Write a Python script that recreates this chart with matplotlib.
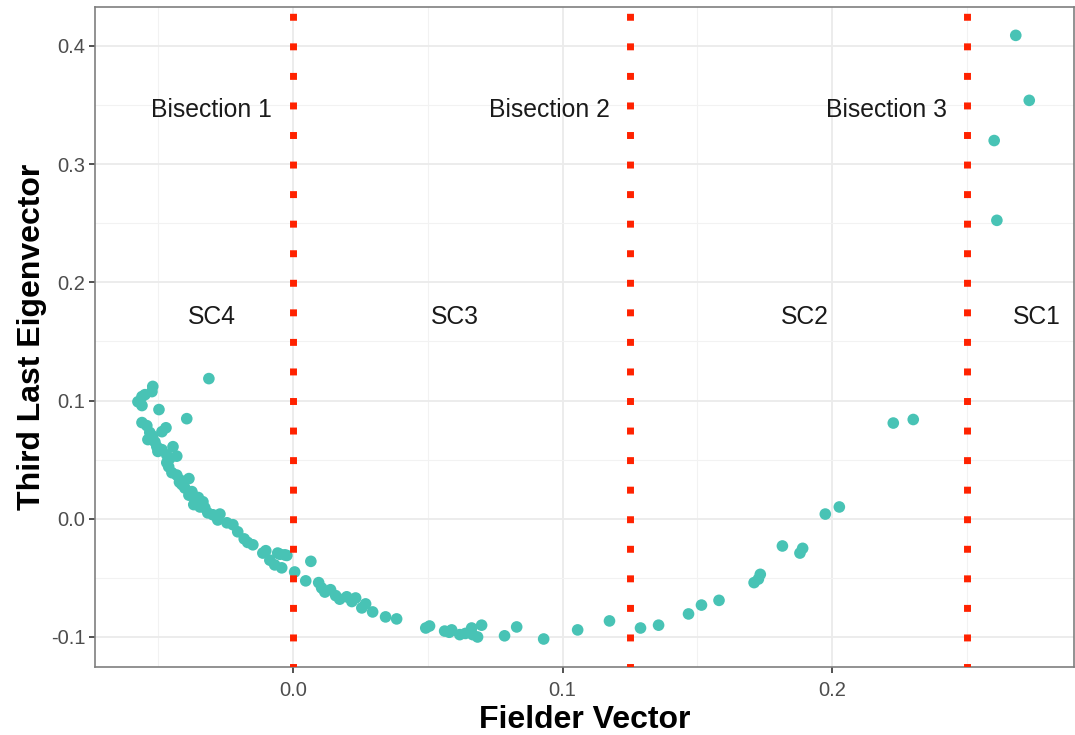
import matplotlib
matplotlib.use("Agg")
import matplotlib.pyplot as plt
from matplotlib.ticker import MultipleLocator

plt.rcParams["font.family"] = ["Liberation Sans", "DejaVu Sans"]

# Fielder vector (x) and third last eigenvector (y)
fielder = [
    0.268, 0.273, 0.260, 0.261, 0.2226, 0.230,
    0.1974, 0.2026, 0.1815, 0.188, 0.189, 0.171, 0.1733, 0.1726,
    0.158, 0.1515, 0.1467, 0.1356, 0.1289, 0.1174, 0.1056, 0.093,
    0.083, 0.0785, 0.070, 0.0685, 0.0667, 0.0663, 0.0619, 0.0589,
    0.0563, 0.0507, 0.0493, 0.0385, 0.0344, 0.0296, 0.027, 0.0256,
    0.0233, 0.0219, 0.0174, 0.0159, 0.0119, 0.0107, 0.0096, 0.0048,
    0.0067, 0.0007, -0.0022, -0.0048, -0.0041, -0.0067, -0.0085, -0.0111,
    -0.0148, -0.0167, -0.0204, -0.0222, -0.0244, -0.0278, -0.027, -0.0296,
    -0.0315, -0.0326, -0.0344, -0.0367, -0.0333, -0.0352, -0.0363, -0.0385,
    -0.0374, -0.040, -0.0411, -0.0419, -0.0385, -0.043, -0.0448, -0.0467,
    -0.0456, -0.043, -0.0467, -0.0485, -0.0444, -0.0504, -0.0511, -0.0537,
    -0.053, -0.0485, -0.047, -0.0541, -0.0559, -0.0393, -0.0496, -0.0559,
    -0.0574, -0.0559, -0.0548, -0.0522, -0.0519, -0.0311, -0.003, -0.0056,
    -0.0100, -0.0180, -0.0350, -0.0420, -0.0460, -0.0500, -0.0520, 0.0140,
    0.0200, 0.0580, 0.0640,
]
third_last = [
    0.409, 0.354, 0.320, 0.2525, 0.081, 0.084,
    0.004, 0.010, -0.023, -0.029, -0.025, -0.054, -0.047, -0.051,
    -0.069, -0.073, -0.0805, -0.090, -0.0924, -0.0864, -0.094, -0.1017,
    -0.0915, -0.099, -0.090, -0.100, -0.098, -0.0924, -0.098, -0.094,
    -0.095, -0.0907, -0.0924, -0.0847, -0.083, -0.0788, -0.072, -0.0754,
    -0.067, -0.070, -0.068, -0.065, -0.062, -0.0585, -0.054, -0.0525,
    -0.036, -0.045, -0.031, -0.030, -0.0415, -0.039, -0.035, -0.029,
    -0.022, -0.020, -0.011, -0.005, -0.0034, -0.001, 0.004, 0.0034,
    0.005, 0.0093, 0.010, 0.012, 0.0144, 0.016, 0.0186, 0.020,
    0.023, 0.026, 0.029, 0.033, 0.034, 0.037, 0.039, 0.0475,
    0.051, 0.053, 0.054, 0.0585, 0.061, 0.061, 0.065, 0.067,
    0.073, 0.0737, 0.077, 0.0788, 0.0814, 0.0847, 0.0924, 0.0958,
    0.099, 0.1034, 0.105, 0.1076, 0.112, 0.1186, -0.0305, -0.029,
    -0.027, -0.017, 0.018, 0.031, 0.044, 0.057, 0.070, -0.060,
    -0.066, -0.096, -0.097,
]

cuts = [0.0, 0.125, 0.25]
bisect_labels = ["Bisection 1", "Bisection 2", "Bisection 3"]
bisect_x = [-0.03, 0.095, 0.22]
sc_labels = ["SC4", "SC3", "SC2", "SC1"]
sc_x = [-0.03, 0.06, 0.19, 0.276]

fig = plt.figure(figsize=(10.75, 7.35), dpi=100)
ax = fig.add_axes([0.0884, 0.0925, 0.9107, 0.898])

ax.scatter(fielder, third_last, s=70, color="#48C3B5", edgecolor="none", zorder=3)
for c in cuts:
    ax.axvline(c, color="#FF2200", lw=5, linestyle=(0.5, (1, 3.256)),
               dash_capstyle="butt", zorder=4)

for lab, x in zip(bisect_labels, bisect_x):
    ax.text(x, 0.3455, lab, ha="center", va="center", fontsize=17.8, color="#1a1a1a")
for lab, x in zip(sc_labels, sc_x):
    ax.text(x, 0.1705, lab, ha="center", va="center", fontsize=17.8, color="#1a1a1a")

ax.set_xlim(-0.0733, 0.2896)
ax.set_ylim(-0.1254, 0.433)
ax.xaxis.set_minor_locator(MultipleLocator(0.05))
ax.yaxis.set_minor_locator(MultipleLocator(0.05))
ax.set_xticks([0.0, 0.1, 0.2])
ax.set_xticklabels(["0.0", "0.1", "0.2"])
ax.set_yticks([-0.1, 0.0, 0.1, 0.2, 0.3, 0.4])
ax.set_yticklabels(["-0.1", "0.0", "0.1", "0.2", "0.3", "0.4"])

ax.grid(which="major", color="#EBEBEB", lw=1.3, zorder=0)
ax.grid(which="minor", color="#F2F2F2", lw=0.8, zorder=0)
ax.set_axisbelow(True)
ax.tick_params(which="major", length=4, width=1.2, color="#333333",
               labelsize=14.5, labelcolor="#4D4D4D", pad=3)
ax.tick_params(axis="x", which="major", pad=6)
ax.tick_params(which="minor", length=0)
for sp in ax.spines.values():
    sp.set_color("#7F7F7F")
    sp.set_linewidth(1.2)

ax.set_xlabel("Fielder Vector", fontsize=23, fontweight="bold", labelpad=4)
ax.set_ylabel("Third Last Eigenvector", fontsize=23, fontweight="bold", labelpad=3)

fig.savefig("out.png", dpi=100)
